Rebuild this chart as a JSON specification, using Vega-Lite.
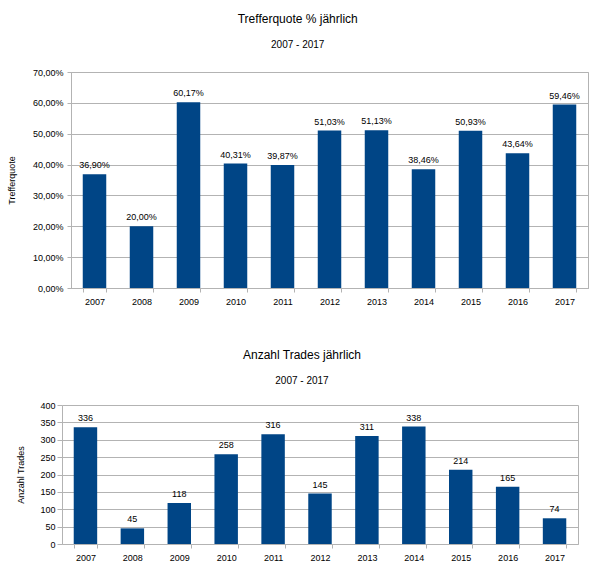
{
  "$schema": "https://vega.github.io/schema/vega-lite/v6.json",
  "padding": {"left": 6, "top": 12, "right": 5, "bottom": 5},
  "config": {
    "locale": {
      "number": {"decimal": ",", "thousands": ".", "grouping": [3], "currency": ["", " €"]}
    },
    "font": "Liberation Sans",
    "view": {"stroke": "#b3b3b3"},
    "axis": {
      "labelFont": "Liberation Sans",
      "titleFont": "Liberation Sans",
      "labelFontSize": 9,
      "titleFontSize": 9,
      "titleFontWeight": "normal",
      "labelColor": "#000000",
      "titleColor": "#000000",
      "gridColor": "#b3b3b3",
      "domainColor": "#b3b3b3",
      "tickColor": "#b3b3b3",
      "tickSize": 4
    },
    "title": {
      "font": "Liberation Sans",
      "subtitleFont": "Liberation Sans",
      "fontSize": 12,
      "fontWeight": "normal",
      "subtitleFontSize": 10,
      "color": "#000000",
      "subtitleColor": "#000000",
      "anchor": "middle",
      "frame": "bounds",
      "subtitlePadding": 14
    }
  },
  "spacing": 42,
  "vconcat": [
    {
      "width": 517,
      "height": 216,
      "title": {"text": "Trefferquote % jährlich", "subtitle": "2007 - 2017", "offset": 17},
      "data": {
        "values": [
          {"Jahr": "2007", "Trefferquote": 0.369},
          {"Jahr": "2008", "Trefferquote": 0.2},
          {"Jahr": "2009", "Trefferquote": 0.6017},
          {"Jahr": "2010", "Trefferquote": 0.4031},
          {"Jahr": "2011", "Trefferquote": 0.3987},
          {"Jahr": "2012", "Trefferquote": 0.5103},
          {"Jahr": "2013", "Trefferquote": 0.5113},
          {"Jahr": "2014", "Trefferquote": 0.3846},
          {"Jahr": "2015", "Trefferquote": 0.5093},
          {"Jahr": "2016", "Trefferquote": 0.4364},
          {"Jahr": "2017", "Trefferquote": 0.5946}
        ]
      },
      "encoding": {
        "x": {
          "field": "Jahr",
          "type": "ordinal",
          "title": null,
          "scale": {"paddingInner": 0.5, "paddingOuter": 0.25},
          "axis": {"labelAngle": 0, "tickBand": "extent", "labelPadding": 5}
        },
        "y": {
          "field": "Trefferquote",
          "type": "quantitative",
          "title": "Trefferquote",
          "scale": {"domain": [0, 0.7]},
          "axis": {
            "format": ".2%",
            "values": [0, 0.1, 0.2, 0.3, 0.4, 0.5, 0.6, 0.7],
            "labelPadding": 4,
            "titlePadding": 16
          }
        }
      },
      "layer": [
        {"mark": {"type": "bar", "color": "#004586"}},
        {
          "mark": {"type": "text", "baseline": "bottom", "dy": -4, "fontSize": 9, "color": "#000000"},
          "encoding": {"text": {"field": "Trefferquote", "type": "quantitative", "format": ".2%"}}
        }
      ]
    },
    {
      "width": 507,
      "height": 139,
      "view": {"stroke": null},
      "title": {"text": "Anzahl Trades jährlich", "subtitle": "2007 - 2017", "offset": 14},
      "data": {
        "values": [
          {"Jahr": "2007", "Trades": 336},
          {"Jahr": "2008", "Trades": 45},
          {"Jahr": "2009", "Trades": 118},
          {"Jahr": "2010", "Trades": 258},
          {"Jahr": "2011", "Trades": 316},
          {"Jahr": "2012", "Trades": 145},
          {"Jahr": "2013", "Trades": 311},
          {"Jahr": "2014", "Trades": 338},
          {"Jahr": "2015", "Trades": 214},
          {"Jahr": "2016", "Trades": 165},
          {"Jahr": "2017", "Trades": 74}
        ]
      },
      "encoding": {
        "x": {
          "field": "Jahr",
          "type": "ordinal",
          "title": null,
          "scale": {"paddingInner": 0.5, "paddingOuter": 0.25, "range": [-9, 507]},
          "axis": {"labelAngle": 0, "tickBand": "extent", "labelPadding": 5}
        }
      },
      "layer": [
        {
          "mark": {"type": "bar", "color": "#004586"},
          "encoding": {
            "y": {
              "field": "Trades",
              "type": "quantitative",
              "title": "Anzahl Trades",
              "scale": {"domain": [0, 400]},
              "axis": {
                "values": [0, 50, 100, 150, 200, 250, 300, 350, 400],
                "offset": 9,
                "tickSize": 5,
                "labelPadding": 2,
                "titlePadding": 14
              }
            }
          }
        },
        {
          "mark": {"type": "text", "baseline": "bottom", "dy": -4, "fontSize": 9, "color": "#000000"},
          "encoding": {
            "y": {
              "field": "Trades",
              "type": "quantitative",
              "axis": {"orient": "right", "labels": false, "ticks": false, "grid": false, "title": null}
            },
            "text": {"field": "Trades", "type": "quantitative"}
          }
        }
      ],
      "resolve": {"axis": {"y": "independent"}}
    }
  ]
}
